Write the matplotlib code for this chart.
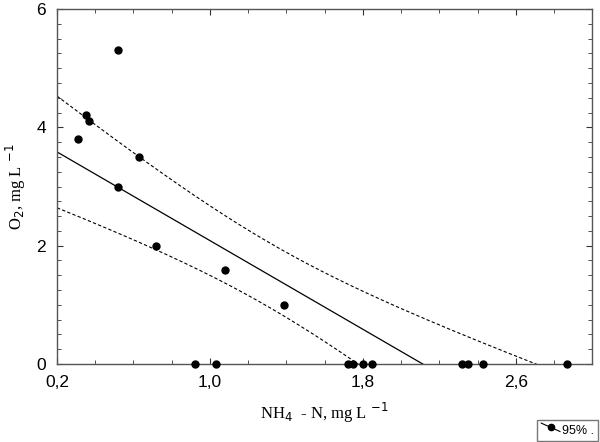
import numpy as np
import matplotlib
matplotlib.use("Agg")
import matplotlib.pyplot as plt
from matplotlib.lines import Line2D
from matplotlib.legend_handler import HandlerBase
from matplotlib.ticker import MultipleLocator

# NH4-N (mg/L) and O2 (mg/L)
nh4 = [0.31, 0.35, 0.37, 0.52, 0.52, 0.63, 0.72, 1.08, 1.39,
       0.92, 1.03, 1.72, 1.75, 1.80, 1.85, 2.32, 2.35, 2.43, 2.87]
o2 = [3.80, 4.21, 4.11, 5.31, 3.00, 3.50, 2.00, 1.59, 1.00,
      0, 0, 0, 0, 0, 0, 0, 0, 0, 0]

xticks = [0.2, 1.0, 1.8, 2.6]
xticklabels = ["0,2", "1,0", "1,8", "2,6"]
yticks = [0, 2, 4, 6]

plt.rcParams["font.family"] = ["Liberation Sans", "DejaVu Sans"]


class DiagHandler(HandlerBase):
    # slanted line with a dot, like the original legend key
    def create_artists(self, legend, orig, xd, yd, width, height, fontsize, trans):
        line = Line2D([xd, xd + width],
                      [yd + height * 0.85, yd + height * 0.1],
                      color="black", lw=0.8, transform=trans)
        dot = Line2D([xd + 0.5 * width], [yd + 0.475 * height], marker="o",
                     markersize=4.5, color="black", transform=trans)
        return [line, dot]


x = np.array(nh4)
y = np.array(o2)
n = len(x)

# least squares line with 95% confidence band of the mean
b, a = np.polyfit(x, y, 1)
resid = y - (a + b * x)
s = np.sqrt(np.sum(resid ** 2) / (n - 2))
sxx = np.sum((x - x.mean()) ** 2)
t = 2.110  # t(0.975, 17)
xs = np.linspace(0.2, 3.0, 200)
ys = a + b * xs
half = t * s * np.sqrt(1 / n + (xs - x.mean()) ** 2 / sxx)

fig = plt.figure(figsize=(6, 4.42), dpi=100)
ax = fig.add_axes([0.095, 0.1765, 0.892, 0.8031])

ax.plot(xs, ys, color="black", lw=0.9)
ax.plot(xs, ys + half, color="black", lw=0.8, ls=(0, (3, 2)))
ax.plot(xs, ys - half, color="black", lw=0.8, ls=(0, (3, 2)))
ax.plot(x, y, "o", color="black", markersize=5, clip_on=False, zorder=5)

ax.set_xlim(0.2, 3.0)
ax.set_ylim(0, 6)
ax.set_xticks(xticks, xticklabels)
ax.set_xticks(np.arange(0.2, 3.01, 0.2), minor=True)
ax.set_yticks(yticks)
ax.yaxis.set_minor_locator(MultipleLocator(0.25))

ax.tick_params(which="both", direction="in", top=True, right=True,
               labelsize=12.5, color="#333333")
ax.tick_params(which="major", length=4, width=0.8)
ax.tick_params(which="minor", length=3, width=0.6)
ax.tick_params(axis="y", pad=8)
ax.tick_params(axis="x", pad=8)
for sp in ax.spines.values():
    sp.set_color("#555555")
    sp.set_linewidth(1.0)

ax.set_xlabel(r"NH$_4$  - N, mg L $^{-1}$", family="Liberation Serif",
              fontsize=12, labelpad=8)
ax.set_ylabel(r"O$_2$, mg L $^{-1}$", family="Liberation Serif",
              fontsize=12, labelpad=6)

fig.legend([object()], ["95% ."], handler_map={object: DiagHandler()},
           loc="lower right", bbox_to_anchor=(0.997, 0.003), fontsize=9,
           frameon=True, fancybox=False, edgecolor="#555555",
           handlelength=1.5, handleheight=1.0, handletextpad=0.2,
           borderpad=0.3, borderaxespad=0)

fig.savefig("out.png", dpi=100)
